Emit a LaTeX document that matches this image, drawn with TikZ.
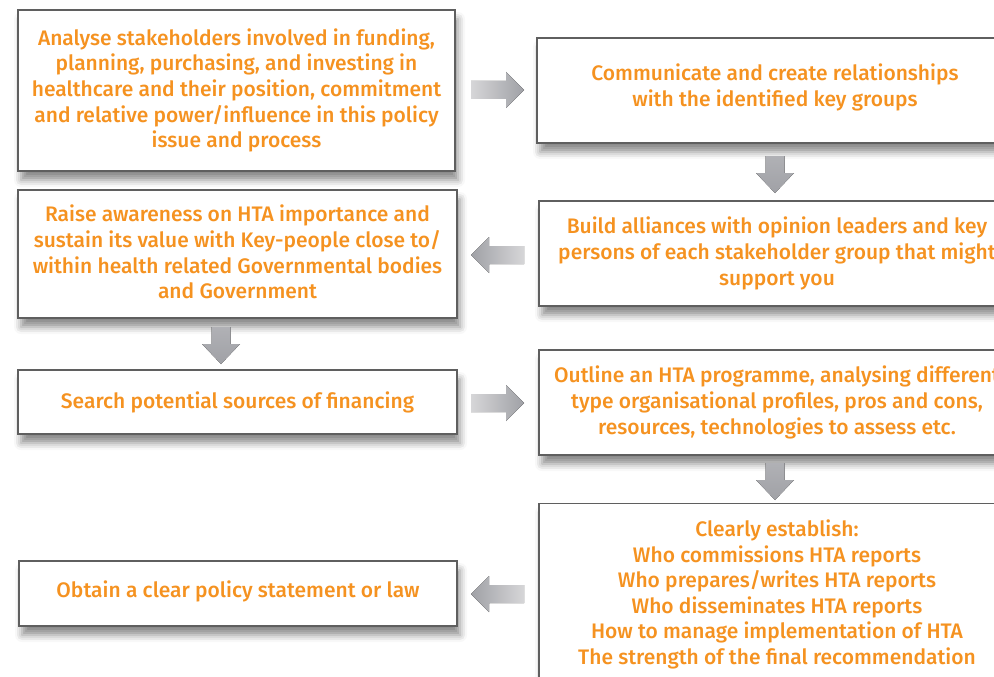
\documentclass[tikz,border=0pt]{standalone}
\usepackage{fontspec}
\setmainfont{Fira Sans Medium}
\usetikzlibrary{shadows.blur}
\definecolor{txtor}{RGB}{245,146,32}
\definecolor{bord}{RGB}{95,95,95}
\definecolor{arrlight}{RGB}{214,214,216}
\definecolor{arrdark}{RGB}{160,161,166}
\newcommand\lowpad[1]{\rule[-#1]{0pt}{0pt}}
\tikzset{
  box/.style={draw=bord, line width=1.3pt, fill=white, align=center, text=txtor,
    font=\fontsize{21}{25.6}\selectfont, inner sep=0pt,
    blur shadow={shadow xshift=3pt, shadow yshift=-9pt, shadow blur radius=7pt, shadow opacity=45}},
  harr/.style={left color=arrlight, right color=arrdark, draw=none},
  varr/.style={top color=arrdark!70!arrlight, bottom color=arrdark, draw=none},
}
\begin{document}
\begin{tikzpicture}[x=1pt,y=-1pt]
\useasboundingbox (0,0) rectangle (994,677);
\clip (0,0) rectangle (994,677);
\node[box, minimum width=437pt, minimum height=161pt] (b1) at (236.5,90.5)
 {Analyse stakeholders involved in funding,\\planning, purchasing, and investing in\\healthcare and their position, commitment\\and relative power/influence in this policy\\issue and process};
\node[box, minimum width=476pt, minimum height=105pt] (b2) at (775,90.5)
 {Communicate and create relationships\\with the identified key groups\lowpad{10.5pt}};
\node[box, minimum width=439pt, minimum height=128pt] (b3) at (237.5,254)
 {Raise awareness on HTA importance and\\sustain its value with Key-people close to/\\within health related Governmental bodies\\and Government\lowpad{4pt}};
\node[box, minimum width=476pt, minimum height=105pt] (b4) at (777,253.5)
 {Build alliances with opinion leaders and key\\persons of each stakeholder group that might\\support you};
\node[box, minimum width=439pt, minimum height=64pt] (b5) at (237.5,402)
 {Search potential sources of financing};
\node[box, minimum width=476pt, minimum height=105pt] (b6) at (777,402.5)
 {Outline an HTA programme, analysing different\\type organisational profiles, pros and cons,\\resources, technologies to assess etc.};
\node[box, minimum width=438pt, minimum height=65pt] (b7) at (238,593.5)
 {Obtain a clear policy statement or law\lowpad{8.5pt}};
\node[box, minimum width=476pt, minimum height=190pt, anchor=north] (b8) at (777,503)
 {Clearly establish:\\Who commissions HTA reports\\Who prepares/writes HTA reports\\Who disseminates HTA reports\\How to manage implementation of HTA\\The strength of the final recommendation\lowpad{13pt}};
\newcommand\rightarr[2]{\fill[harr] (#1,#2-9) -- (#1+35,#2-9) -- (#1+35,#2-18) -- (#1+53,#2) -- (#1+35,#2+18) -- (#1+35,#2+9) -- (#1,#2+9) -- cycle;}
\newcommand\leftarr[2]{\fill[harr, left color=arrdark, right color=arrlight] (#1,#2-9) -- (#1-35,#2-9) -- (#1-35,#2-18) -- (#1-53,#2) -- (#1-35,#2+18) -- (#1-35,#2+9) -- (#1,#2+9) -- cycle;}
\newcommand\downarr[2]{\fill[varr] (#1-9.5,#2) -- (#1+9.5,#2) -- (#1+9.5,#2+17) -- (#1+19,#2+17) -- (#1,#2+37) -- (#1-19,#2+17) -- (#1-9.5,#2+17) -- cycle;}
\rightarr{471}{90}
\downarr{775}{156}
\leftarr{524}{255}
\downarr{221}{327}
\rightarr{471}{403}
\downarr{775}{463}
\leftarr{524}{594}
\end{tikzpicture}
\end{document}
